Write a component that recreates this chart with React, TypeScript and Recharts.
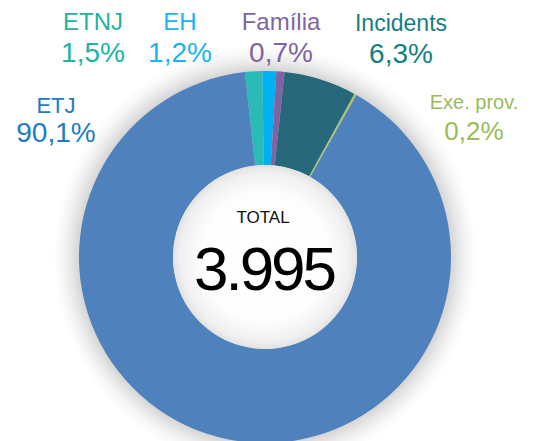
import React from 'react';
import { PieChart, Pie, Cell } from 'recharts';

const categories = ['ETNJ', 'EH', 'Família', 'Incidents', 'Exe. prov.', 'ETJ'];
const shares = [1.5, 1.2, 0.7, 6.3, 0.2, 90.1];
const totalLabel = 'TOTAL';
const totalValue = 3995;

const sliceColors = ['#2BBBB7', '#00B0F0', '#8064A2', '#26687A', '#A9C46E', '#4F81BD'];
const textColors = ['#22B39F', '#1AB5EC', '#8064A2', '#14807E', '#9BBB59', '#1E7BC4'];
// label layout: [centerX, nameBaseline, pctBaseline, nameSize, pctSize]
const labelLayout: number[][] = [
  [93, 30, 62, 24, 28],
  [180, 30, 62, 24, 28],
  [281, 30, 62, 24, 28],
  [401, 31, 63, 23, 28],
  [474, 109, 140, 20, 26],
  [56, 113, 142, 22, 28],
];

const data = categories.map((name, i) => ({ name, value: shares[i] }));
const one = [{ name: 'bg', value: 1 }];

const FONT = '"Liberation Sans", Arial, Helvetica, sans-serif';
const CX = 265;
const CY = 257;

const fmtPct = (v: number) => v.toFixed(1).replace('.', ',') + '%';
const fmtTotal = (v: number) => v.toLocaleString('de-DE');

const renderLabel = (props: any) => {
  const i = props.index;
  const [x, y1, y2, s1, s2] = labelLayout[i];
  const c = textColors[i];
  return (
    <g key={`lbl-${i}`}>
      <text x={x} y={y1} textAnchor="middle" fill={c} fontSize={s1} fontFamily={FONT}>
        {categories[i]}
      </text>
      <text x={x} y={y2} textAnchor="middle" fill={c} fontSize={s2} fontFamily={FONT}>
        {fmtPct(shares[i])}
      </text>
    </g>
  );
};

const renderCenter = (props: any) => (
  <g key="center">
    <text x={CX - 2} y={223} textAnchor="middle" fill="#111" fontSize={17} fontFamily={FONT}>
      {totalLabel}
    </text>
    <text x={CX - 1} y={290} textAnchor="middle" fill="#000" fontSize={62} letterSpacing={-3} fontFamily={FONT}>
      {fmtTotal(totalValue)}
    </text>
  </g>
);

export default function App() {
  return (
    <div style={{ position: 'absolute', left: 0, top: 0, width: 535, height: 441, background: '#fff' }}>
      <PieChart width={535} height={441} margin={{ top: 0, right: 0, bottom: 0, left: 0 }}>
        <defs>
          <radialGradient id="outerShadow" cx="50%" cy="50%" r="50%">
            <stop offset="0%" stopColor="#cccccc" />
            <stop offset="87.5%" stopColor="#d4d4d4" />
            <stop offset="92%" stopColor="#e9e9e9" />
            <stop offset="96%" stopColor="#f7f7f7" />
            <stop offset="100%" stopColor="#ffffff" />
          </radialGradient>
          <radialGradient id="innerGlow" cx="50%" cy="50%" r="50%">
            <stop offset="0%" stopColor="#ffffff" />
            <stop offset="70%" stopColor="#fdfdfd" />
            <stop offset="92%" stopColor="#f0f0f0" />
            <stop offset="100%" stopColor="#e2e2e2" />
          </radialGradient>
        </defs>
        <Pie
          data={one}
          dataKey="value"
          cx={CX}
          cy={CY}
          innerRadius={0}
          outerRadius={212}
          startAngle={90}
          endAngle={-270}
          stroke="none"
          fill="url(#outerShadow)"
          isAnimationActive={false}
        />
        <Pie
          data={data}
          dataKey="value"
          cx={CX}
          cy={CY}
          innerRadius={92}
          outerRadius={186}
          startAngle={96.2}
          endAngle={-263.8}
          stroke="none"
          label={renderLabel}
          labelLine={false}
          isAnimationActive={false}
        >
          {data.map((d, i) => (
            <Cell key={d.name} fill={sliceColors[i]} />
          ))}
        </Pie>
        <Pie
          data={one}
          dataKey="value"
          cx={CX}
          cy={CY}
          innerRadius={0}
          outerRadius={92}
          startAngle={90}
          endAngle={-270}
          stroke="none"
          fill="url(#innerGlow)"
          label={renderCenter}
          labelLine={false}
          isAnimationActive={false}
        />
      </PieChart>
    </div>
  );
}
